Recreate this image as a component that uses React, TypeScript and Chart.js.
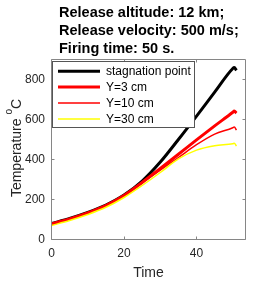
import React, { useEffect, useRef } from "react";
import { Chart, registerables } from "chart.js";

Chart.register(...registerables);

const titleLines = ["Release altitude: 12 km;", "Release velocity: 500 m/s;", "Firing time: 50 s."];
const timeValues = [0, 5, 10, 15, 20, 25, 30, 35, 40, 45, 50, 50.4, 51];
const stagnationPoint = [80, 105, 135, 172, 222, 292, 387, 500, 617, 737, 855, 860, 846];
const y3cm = [78, 103, 133, 170, 220, 285, 355, 426, 498, 568, 636, 642, 632];
const y10cm = [78, 103, 133, 170, 220, 284, 347, 410, 474, 527, 559, 563, 547];
const y30cm = [70, 95, 125, 161, 210, 270, 335, 403, 447, 469, 479, 481, 467];
const seriesLabels = ["stagnation point", "Y=3 cm", "Y=10 cm", "Y=30 cm"];
const seriesColors = ["#000000", "#ff0000", "#ff0000", "#ffff00"];
const seriesWidths = [3, 3, 1.5, 1.5];
const xTickValues = [0, 20, 40];
const yTickValues = [0, 200, 400, 600, 800];
const xLabel = "Time";
const yLabelMain = "Temperature ";
const yLabelSup = "o";
const yLabelEnd = "C";

const FONT = "'Liberation Sans', Arial, Helvetica, sans-serif";
const AXIS_COLOR = "#868686";
const TEXT_COLOR = "#262626";

const decorPlugin = {
  id: "decor",
  afterDatasetsDraw(chart: any) {
    const { ctx, chartArea: a } = chart;
    const xs = chart.scales.x;
    const ys = chart.scales.y;
    const px = (v: number) => Math.round(v - 0.5) + 0.5;
    const L = px(a.left), R = px(a.right), T = px(a.top), B = px(a.bottom);
    ctx.save();
    ctx.strokeStyle = AXIS_COLOR;
    ctx.lineWidth = 1;
    ctx.beginPath();
    ctx.rect(L, T, R - L, B - T);
    ctx.stroke();
    const tl = 3;
    ctx.beginPath();
    xTickValues.forEach((v) => {
      const x = px(xs.getPixelForValue(v));
      ctx.moveTo(x, B); ctx.lineTo(x, B - tl);
      ctx.moveTo(x, T); ctx.lineTo(x, T + tl);
    });
    yTickValues.forEach((v) => {
      const y = px(ys.getPixelForValue(v));
      ctx.moveTo(L, y); ctx.lineTo(L + tl, y);
      ctx.moveTo(R, y); ctx.lineTo(R - tl, y);
    });
    ctx.stroke();

    // legend box
    const lx = L + 1, ly = T + 2, lw = 142, lh = 66;
    ctx.fillStyle = "#ffffff";
    ctx.fillRect(lx, ly, lw, lh);
    ctx.strokeStyle = "#555555";
    ctx.strokeRect(lx, ly, lw, lh);
    ctx.font = `12px ${FONT}`;
    ctx.textBaseline = "middle";
    ctx.textAlign = "left";
    seriesLabels.forEach((lab, i) => {
      const y = ly + 9.7 + i * 15.9;
      ctx.strokeStyle = seriesColors[i];
      ctx.lineWidth = seriesWidths[i];
      ctx.beginPath();
      ctx.moveTo(lx + 5.5, y);
      ctx.lineTo(lx + 47.5, y);
      ctx.stroke();
      ctx.fillStyle = "#000000";
      ctx.fillText(lab, lx + 53.5, y + 0.5);
    });
    ctx.restore();
  },
  afterDraw(chart: any) {
    const { ctx } = chart;
    ctx.save();
    ctx.fillStyle = "#000000";
    ctx.font = `bold 14.5px ${FONT}`;
    ctx.textBaseline = "alphabetic";
    ctx.textAlign = "left";
    titleLines.forEach((line, i) => {
      ctx.fillText(line, 59, 16.7 + i * 18.2);
    });
    // y axis label with superscript
    ctx.fillStyle = TEXT_COLOR;
    ctx.translate(20.7, 148);
    ctx.rotate(-Math.PI / 2);
    ctx.font = `14px ${FONT}`;
    const w1 = ctx.measureText(yLabelMain).width;
    const w3 = ctx.measureText(yLabelEnd).width;
    ctx.font = `10px ${FONT}`;
    const w2 = ctx.measureText(yLabelSup).width;
    let x = -(w1 + w2 + w3) / 2;
    ctx.font = `14px ${FONT}`;
    ctx.fillText(yLabelMain, x, 0);
    x += w1;
    ctx.font = `10px ${FONT}`;
    ctx.fillText(yLabelSup, x, -9);
    x += w2;
    ctx.font = `14px ${FONT}`;
    ctx.fillText(yLabelEnd, x, 0);
    ctx.restore();
  },
};

export default function App() {
  const ref = useRef<HTMLCanvasElement>(null);
  useEffect(() => {
    const canvas = ref.current;
    if (!canvas) return;
    const allSeries = [stagnationPoint, y3cm, y10cm, y30cm];
    const datasets = seriesLabels.map((label, i) => ({
      label,
      data: timeValues.map((t, j) => ({ x: t, y: allSeries[i][j] })),
      borderColor: seriesColors[i],
      backgroundColor: seriesColors[i],
      borderWidth: seriesWidths[i],
      pointRadius: 0,
      cubicInterpolationMode: "monotone" as const,
      fill: false,
      order: seriesLabels.length - 1 - i,
    }));
    const chart = new Chart(canvas, {
      type: "line",
      data: { datasets },
      plugins: [decorPlugin],
      options: {
        responsive: false,
        animation: false,
        devicePixelRatio: 1,
        layout: { padding: { top: 59.5, right: 27.5, left: 0, bottom: 0 } },
        plugins: { legend: { display: false }, title: { display: false }, tooltip: { enabled: false } },
        scales: {
          x: {
            type: "linear",
            min: 0,
            max: 53.5,
            afterFit: (s: any) => { s.height = 41.5; },
            afterBuildTicks: (s: any) => { s.ticks = xTickValues.map((v) => ({ value: v })); },
            grid: { display: false, drawTicks: false },
            border: { display: false },
            ticks: { padding: 7, color: TEXT_COLOR, font: { family: FONT, size: 12 }, maxRotation: 0 },
            title: { display: true, text: xLabel, color: TEXT_COLOR, font: { family: FONT, size: 14 }, padding: { top: 0, bottom: -1 } },
          },
          y: {
            type: "linear",
            min: 0,
            max: 900,
            afterFit: (s: any) => { s.width = 51.5; },
            afterBuildTicks: (s: any) => { s.ticks = yTickValues.map((v) => ({ value: v })); },
            grid: { display: false, drawTicks: false },
            border: { display: false },
            ticks: { padding: 6.5, color: TEXT_COLOR, font: { family: FONT, size: 12 } },
          },
        },
      },
    });
    return () => chart.destroy();
  }, []);
  return (
    <div style={{ position: "fixed", left: 0, top: 0, width: 273, height: 281 }}>
      <canvas ref={ref} width={273} height={281} style={{ display: "block" }} />
    </div>
  );
}
